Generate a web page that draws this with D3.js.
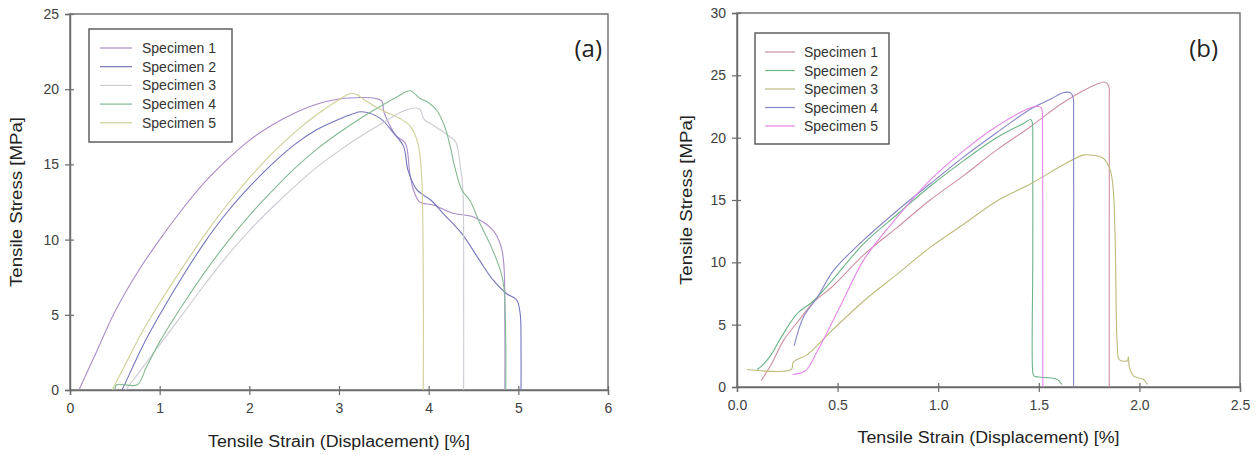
<!DOCTYPE html>
<html><head><meta charset="utf-8">
<script src="https://cdn.jsdelivr.net/npm/d3@7/dist/d3.min.js"></script>
<style>
body{margin:0;background:#fff;}
svg text{font-family:"Liberation Sans",Arial,sans-serif;}
</style></head>
<body><svg id="c" width="1258" height="455"></svg>
<script>
// ---------- DATA ----------
const seriesNames = ["Specimen 1","Specimen 2","Specimen 3","Specimen 4","Specimen 5"];

// Panel (a): [strain %, stress MPa]
const aSpec1 = [[0.1,0],[0.3,2.6],[0.5,5.2],[0.75,7.8],[1.0,10.0],[1.25,12.0],[1.5,13.8],[1.75,15.3],[2.0,16.6],[2.25,17.6],[2.5,18.4],[2.75,19.0],[3.0,19.35],[3.25,19.45],[3.4,19.4],[3.48,19.2],[3.5,18.5],[3.64,16.9],[3.74,16.4],[3.79,14.4],[3.83,13.3],[3.9,12.5],[4.05,12.3],[4.27,11.75],[4.5,11.5],[4.72,10.6],[4.81,9.5],[4.84,8.2],[4.85,4],[4.85,0]];
const aSpec2 = [[0.58,0],[0.62,0.5],[0.8,2.8],[1.0,5.0],[1.25,7.5],[1.5,9.8],[1.75,11.8],[2.0,13.5],[2.25,15.0],[2.5,16.3],[2.75,17.3],[3.0,18.0],[3.15,18.35],[3.25,18.5],[3.46,18.06],[3.61,17.07],[3.72,16.2],[3.77,14.6],[3.87,13.3],[4.03,12.6],[4.16,11.75],[4.37,10.4],[4.57,8.6],[4.72,7.3],[4.87,6.4],[4.98,6.0],[5.02,5.1],[5.03,2.5],[5.03,0]];
const aSpec3 = [[0.62,0],[0.9,2.2],[1.0,3.0],[1.25,5.0],[1.5,7.0],[1.75,8.9],[2.0,10.6],[2.25,12.1],[2.5,13.5],[2.75,14.8],[3.0,15.9],[3.25,16.9],[3.5,17.8],[3.7,18.5],[3.85,18.75],[3.9,18.7],[3.95,18.0],[4.05,17.6],[4.2,17.0],[4.3,16.5],[4.35,15.0],[4.38,13.5],[4.39,6],[4.39,0]];
const aSpec4 = [[0.5,0],[0.52,0.35],[0.75,0.35],[0.85,1.5],[1.0,3.2],[1.25,5.6],[1.5,7.8],[1.75,9.8],[2.0,11.6],[2.25,13.2],[2.5,14.7],[2.75,16.0],[3.0,17.1],[3.25,18.1],[3.5,19.0],[3.65,19.5],[3.79,19.9],[3.9,19.4],[4.0,19.1],[4.09,18.6],[4.18,17.5],[4.24,16.2],[4.29,14.85],[4.37,13.3],[4.46,12.6],[4.57,11.1],[4.7,9.5],[4.81,7.75],[4.84,6.8],[4.86,3],[4.86,0]];
const aSpec5 = [[0.47,0],[0.6,1.5],[0.8,3.8],[1.0,5.8],[1.25,8.1],[1.5,10.3],[1.75,12.3],[2.0,14.1],[2.25,15.7],[2.5,17.1],[2.75,18.3],[3.0,19.3],[3.12,19.7],[3.2,19.65],[3.28,19.3],[3.48,18.6],[3.68,18.05],[3.8,17.5],[3.88,16.4],[3.92,14.4],[3.94,7],[3.94,0]];

// Panel (b)
const bSpec1 = [[0.12,0.5],[0.17,1.8],[0.23,3.7],[0.32,5.6],[0.38,6.8],[0.47,8.0],[0.63,10.6],[0.8,12.85],[0.96,15.0],[1.13,17.0],[1.29,19.0],[1.46,20.9],[1.62,22.8],[1.79,24.3],[1.83,24.45],[1.848,24.1],[1.85,23],[1.85,12],[1.85,0]];
const bSpec2 = [[0.1,1.4],[0.13,1.8],[0.17,2.6],[0.22,4.0],[0.3,5.9],[0.38,6.9],[0.47,8.5],[0.63,11.5],[0.8,13.9],[0.96,16.1],[1.13,18.2],[1.29,20.0],[1.43,21.2],[1.46,21.45],[1.468,21.2],[1.47,20],[1.47,10],[1.47,1.2],[1.475,0.9],[1.5,0.8],[1.54,0.75],[1.57,0.7],[1.59,0.6],[1.6,0.5],[1.615,0.2]];
const bSpec3 = [[0.05,1.4],[0.27,1.4],[0.28,2.0],[0.35,2.6],[0.47,4.5],[0.63,6.9],[0.8,9.1],[0.96,11.2],[1.13,13.1],[1.29,14.9],[1.46,16.3],[1.62,17.8],[1.72,18.6],[1.76,18.6],[1.82,18.35],[1.855,17.4],[1.87,15.8],[1.88,11.5],[1.89,3.4],[1.9,2.2],[1.94,2.1],[1.945,2.4],[1.95,1.6],[1.97,0.9],[2.02,0.6],[2.04,0.2]];
const bSpec4 = [[0.284,3.3],[0.33,5.6],[0.4,7.2],[0.48,9.35],[0.63,11.8],[0.8,14.2],[0.96,16.3],[1.13,18.5],[1.29,20.4],[1.46,22.3],[1.56,23.1],[1.62,23.6],[1.657,23.6],[1.671,23.2],[1.673,22],[1.673,11],[1.673,0]];
const bSpec5 = [[0.276,1.0],[0.34,1.3],[0.4,2.9],[0.52,6.7],[0.63,10.2],[0.8,13.7],[0.96,16.6],[1.13,19.0],[1.29,20.9],[1.46,22.4],[1.5,22.5],[1.515,22.3],[1.518,21],[1.52,11],[1.52,0]];

const aXTicks = [0,1,2,3,4,5,6];
const aYTicks = [0,5,10,15,20,25];
const bXTicks = [0.0,0.5,1.0,1.5,2.0,2.5];
const bYTicks = [0,5,10,15,20,25,30];
const xTitle = "Tensile Strain (Displacement) [%]";
const yTitle = "Tensile Stress [MPa]";

// ---------- DRAW ----------
const svg = d3.select("#c");

function panel(opt){
  const g = svg.append("g");
  const x = d3.scaleLinear().domain(opt.xDomain).range([opt.left, opt.right]);
  const y = d3.scaleLinear().domain(opt.yDomain).range([opt.bottom, opt.top]);
  const axisColor = "#6b6b6b";

  g.append("rect").attr("x",opt.left).attr("y",opt.top)
    .attr("width",opt.right-opt.left).attr("height",opt.bottom-opt.top)
    .attr("fill","none").attr("stroke",axisColor).attr("stroke-width",1.4);

  const xa = g.append("g").attr("transform",`translate(0,${opt.bottom})`)
    .call(d3.axisBottom(x).tickValues(opt.xTicks).tickSize(5).tickPadding(8).tickFormat(opt.xFmt));
  const ya = g.append("g").attr("transform",`translate(${opt.left},0)`)
    .call(d3.axisLeft(y).tickValues(opt.yTicks).tickSize(5).tickPadding(6).tickFormat(d3.format("d")));
  [xa,ya].forEach(a=>{
    a.select(".domain").attr("stroke",axisColor).attr("stroke-width",1.4);
    a.selectAll(".tick line").attr("stroke",axisColor).attr("stroke-width",1.2);
    a.selectAll(".tick text").attr("fill","#404040").style("font-size","14px");
  });
  xa.selectAll(".tick line").attr("y1",-4);
  ya.selectAll(".tick line").attr("x1",4);

  const line = d3.line().curve(d3.curveCatmullRom.alpha(0.5)).x(d=>x(d[0])).y(d=>y(d[1]));
  opt.series.forEach((s,i)=>{
    g.append("path").datum(s).attr("d",line).attr("fill","none")
      .attr("stroke",opt.colors[i]).attr("stroke-width",1.1);
  });

  const lg = g.append("g");
  lg.append("rect").attr("x",opt.leg.x).attr("y",opt.leg.y).attr("width",opt.leg.w).attr("height",opt.leg.h)
    .attr("fill","#fff").attr("stroke","#555").attr("stroke-width",1.4);
  seriesNames.forEach((n,i)=>{
    const yy = opt.leg.y + opt.leg.first + i*opt.leg.step;
    lg.append("line").attr("x1",opt.leg.x+opt.leg.l1).attr("x2",opt.leg.x+opt.leg.l2)
      .attr("y1",yy).attr("y2",yy).attr("stroke",opt.colors[i]).attr("stroke-width",1.2);
    lg.append("text").attr("x",opt.leg.x+opt.leg.tx).attr("y",yy+5).text(n)
      .attr("fill","#333").style("font-size","14px");
  });

  g.append("text").attr("x",opt.labelX).attr("y",57).attr("text-anchor","end")
    .style("font-family","'Open Sans',sans-serif").style("font-size","24px").attr("fill","#222").text(opt.label);

  g.append("text").attr("x",(opt.left+opt.right)/2).attr("y",opt.xTitleY).attr("text-anchor","middle")
    .attr("textLength",262).attr("lengthAdjust","spacingAndGlyphs")
    .style("font-size","16px").attr("fill","#222").text(xTitle);
  g.append("text").attr("transform",`translate(${opt.yTitleX},${(opt.top+opt.bottom)/2}) rotate(-90)`)
    .attr("text-anchor","middle").attr("textLength",170).attr("lengthAdjust","spacingAndGlyphs")
    .style("font-size","16px").attr("fill","#222").text(yTitle);
}

panel({
  left:70, right:608, top:14, bottom:390,
  xDomain:[0,6], yDomain:[0,25], xTicks:aXTicks, yTicks:aYTicks, xFmt:d3.format("d"),
  series:[aSpec1,aSpec2,aSpec3,aSpec4,aSpec5],
  colors:["#a98cc8","#7575bd","#cbcbd3","#84b994","#cfcf95"],
  leg:{x:89,y:29,w:143,h:113,first:19,step:18.7,l1:11,l2:43,tx:53},
  label:"(a)", labelX:602, xTitleY:447, yTitleX:22
});
panel({
  left:737, right:1240, top:13, bottom:387,
  xDomain:[0,2.5], yDomain:[0,30], xTicks:bXTicks, yTicks:bYTicks, xFmt:d3.format(".1f"),
  series:[bSpec1,bSpec2,bSpec3,bSpec4,bSpec5],
  colors:["#cf8f9f","#6cb488","#bdbb7a","#8585c6","#e487e6"],
  leg:{x:755,y:33,w:134,h:111,first:19,step:18.5,l1:10,l2:40,tx:49},
  label:"(b)", labelX:1218, xTitleY:443, yTitleX:692
});
</script></body></html>
